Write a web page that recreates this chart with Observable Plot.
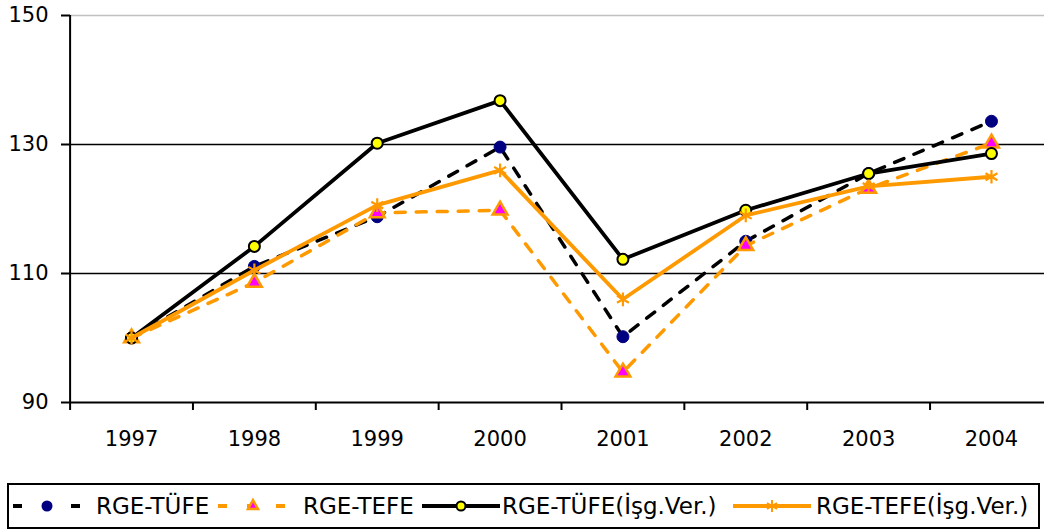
<!DOCTYPE html>
<html><head><meta charset="utf-8">
<script src="https://cdn.jsdelivr.net/npm/d3@7"></script>
<script src="https://cdn.jsdelivr.net/npm/@observablehq/plot@0.6"></script>
<style>
body{margin:0;background:#fff;font-family:"DejaVu Sans",sans-serif;overflow:hidden;width:1044px;height:531px;position:relative}
#chart{position:absolute;left:0;top:0}
#legend{position:absolute;left:7px;top:483px;width:1029px;height:42px;border:2px solid #000;box-sizing:content-box}
.item{position:absolute;top:0;height:42px;display:flex;align-items:center;font-size:23px;color:#000;white-space:nowrap}
.item svg{display:block}
</style></head><body>
<div id="chart"></div>
<div id="legend"></div>
<script>
const years = [1997, 1998, 1999, 2000, 2001, 2002, 2003, 2004];
const seriesNames = ["RGE-TÜFE", "RGE-TEFE", "RGE-TÜFE(İşg.Ver.)", "RGE-TEFE(İşg.Ver.)"];
const rgeTufe     = [100, 111.1, 118.8, 129.6, 100.2, 115.0, 125.5, 133.6];
const rgeTefe     = [100, 108.6, 119.4, 119.8,  94.7, 114.3, 123.2, 130.2];
const rgeTufeIsg  = [100, 114.2, 130.2, 136.8, 112.2, 119.8, 125.5, 128.6];
const rgeTefeIsg  = [100, 110.5, 120.6, 126.0, 106.0, 119.0, 123.5, 125.0];
const yTicks = [90, 110, 130, 150];

const toRows = (vals) => years.map((y, i) => ({year: y, value: vals[i]}));
const dTufe = toRows(rgeTufe), dTefe = toRows(rgeTefe), dTufeI = toRows(rgeTufeIsg), dTefeI = toRows(rgeTefeIsg);
const bounds = d3.range(years.length + 1).map(i => years[0] - 0.5 + i);

const ORANGE = "#FF9900", NAVY = "#000080";

const chart = Plot.plot({
  width: 1044, height: 470,
  marginLeft: 70, marginRight: 0, marginTop: 15, marginBottom: 68,
  style: {fontFamily: "DejaVu Sans, sans-serif", fontSize: "21px", color: "#000", background: "#fff"},
  x: {domain: [years[0] - 0.5, years[years.length - 1] + 0.5], range: [69.6, 1052.4]},
  y: {domain: [90, 150]},
  marks: [
    Plot.ruleY([150], {stroke: "#c0c0c0", strokeWidth: 1.5}),
    Plot.ruleY([110, 130], {stroke: "#000", strokeWidth: 1.6}),
    Plot.axisY({ticks: yTicks, tickSize: 9, tickPadding: 13, strokeWidth: 2, label: null, fontSize: 21}),
    Plot.axisX({ticks: bounds, tickSize: 8, tickFormat: () => "", strokeWidth: 2, label: null}),
    Plot.axisX({ticks: years, tickSize: 0, tickPadding: 29, tickFormat: d => String(d), label: null, fontSize: 21}),
    Plot.ruleX([years[0] - 0.5], {y1: 90, y2: 150, stroke: "#000", strokeWidth: 2}),
    Plot.ruleY([90], {stroke: "#000", strokeWidth: 2}),
    // RGE-TÜFE dashed black, navy circles
    Plot.line(dTufe, {x: "year", y: "value", stroke: "#000", strokeWidth: 3.5, strokeDasharray: "10,11"}),
    Plot.dot(dTufe, {x: "year", y: "value", r: 6, fill: NAVY, stroke: NAVY, strokeWidth: 1}),
    // RGE-TEFE dashed orange, triangles
    Plot.line(dTefe, {x: "year", y: "value", stroke: ORANGE, strokeWidth: 3.5, strokeDasharray: "10,11"}),
    Plot.dot(dTefe, {x: "year", y: "value", symbol: "triangle", r: 5.5, fill: "#FF00FF", stroke: ORANGE, strokeWidth: 2.5}),
    // RGE-TÜFE(İşg.Ver.) solid black, yellow circles
    Plot.line(dTufeI, {x: "year", y: "value", stroke: "#000", strokeWidth: 3.8}),
    Plot.dot(dTufeI, {x: "year", y: "value", r: 5.5, fill: "#FFFF00", stroke: "#000", strokeWidth: 2}),
    // RGE-TEFE(İşg.Ver.) solid orange, asterisks
    Plot.line(dTefeI, {x: "year", y: "value", stroke: ORANGE, strokeWidth: 3.8}),
    Plot.dot(dTefeI, {x: "year", y: "value", symbol: "asterisk", r: 6.5, stroke: ORANGE, strokeWidth: 2.2})
  ]
});
document.getElementById("chart").appendChild(chart);

// Legend
const legend = document.getElementById("legend");
const items = [
  {name: seriesNames[0], left: 4,   sw: 68, stroke: "#000",  dash: "9,20", marker: "circleNavy"},
  {name: seriesNames[1], left: 209, sw: 70, stroke: ORANGE,  dash: "9,20", marker: "triangle"},
  {name: seriesNames[2], left: 413, sw: 78, stroke: "#000",  dash: null,   marker: "circleYellow"},
  {name: seriesNames[3], left: 724, sw: 78, stroke: ORANGE,  dash: null,   marker: "asterisk"}
];
for (const it of items) {
  const div = document.createElement("div");
  div.className = "item";
  div.style.left = it.left + "px";
  const w = it.sw, cx = w / 2;
  let marker = "";
  if (it.marker === "circleNavy") marker = `<circle cx="${cx}" cy="10" r="5.5" fill="${NAVY}"/>`;
  if (it.marker === "circleYellow") marker = `<circle cx="${cx}" cy="10" r="4.5" fill="#FFFF00" stroke="#000" stroke-width="2"/>`;
  if (it.marker === "triangle") marker = `<path d="M${cx},4 L${cx+5},13 L${cx-5},13 Z" fill="#FF00FF" stroke="${ORANGE}" stroke-width="2.5"/>`;
  if (it.marker === "asterisk") marker = `<g stroke="${ORANGE}" stroke-width="2"><line x1="${cx}" y1="4" x2="${cx}" y2="16"/><line x1="${cx-5}" y1="7" x2="${cx+5}" y2="13"/><line x1="${cx-5}" y1="13" x2="${cx+5}" y2="7"/></g>`;
  const line = `<line x1="0" y1="10" x2="${w}" y2="10" stroke="${it.stroke}" stroke-width="4" ${it.dash ? `stroke-dasharray="${it.dash}"` : 'stroke-linecap="round"'}/>`;
  div.innerHTML = `<svg width="${w}" height="20">${line}${marker}</svg><span style="margin-left:${it.marker==='circleYellow'?2:(it.marker==='asterisk'?5:15)}px">${it.name}</span>`;
  legend.appendChild(div);
}
</script>
</body></html>
